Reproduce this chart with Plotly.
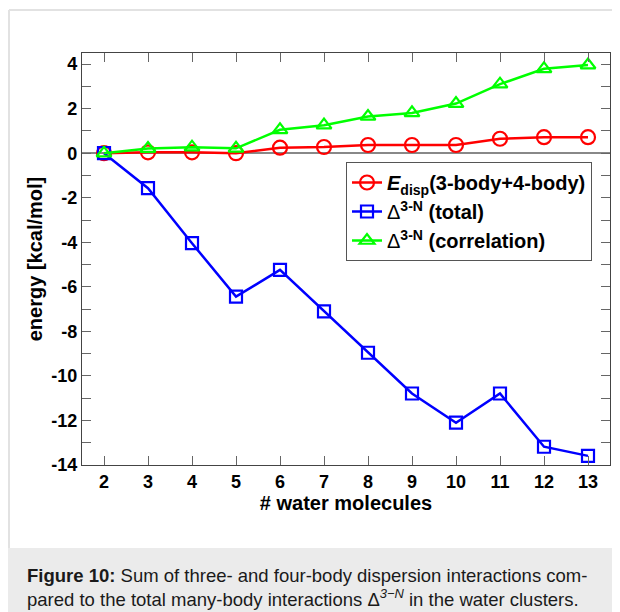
import plotly.graph_objects as go

# ---- data ----
n_water = [2, 3, 4, 5, 6, 7, 8, 9, 10, 11, 12, 13]
e_disp = [0.0, 0.04, 0.04, 0.0, 0.25, 0.28, 0.37, 0.37, 0.37, 0.65, 0.72, 0.72]
delta_total = [0.0, -1.57, -4.04, -6.44, -5.24, -7.1, -8.96, -10.79, -12.1, -10.79, -13.18, -13.59]
delta_corr = [0.0, 0.21, 0.27, 0.22, 1.05, 1.26, 1.65, 1.81, 2.23, 3.1, 3.79, 3.96]

y_tick_vals = list(range(-14, 5, 2))
y_tick_text = [str(v) for v in y_tick_vals]
y_minor_vals = list(range(-13, 5, 2))
x_tick_vals = n_water

# the page body adds an 8px margin, so the figure is 8px smaller and all
# screen positions are shifted by -8
OFF = 8
W, H = 620 - OFF, 612 - OFF
L, R, T, B = 82 - OFF, 610 - OFF, 53 - OFF, 465 - OFF
FONT = "Liberation Sans, Arial, Helvetica, sans-serif"


def px2x(px):
    return (px - OFF - L) / (R - L)


def py2y(py):
    return (B - (py - OFF)) / (B - T)


fig = go.Figure()

fig.add_trace(go.Scatter(
    x=n_water, y=e_disp, mode="lines+markers",
    name="<b><i>E</i><sub>disp</sub>(3-body+4-body)</b>",
    line=dict(color="#ff0000", width=2.5),
    marker=dict(symbol="circle-open", size=14, color="#ff0000", line=dict(width=2.2, color="#ff0000")),
))
fig.add_trace(go.Scatter(
    x=n_water, y=delta_total, mode="lines+markers",
    name="Δ<b><sup>3-N</sup> (total)</b>",
    line=dict(color="#0000ff", width=2.5),
    marker=dict(symbol="square-open", size=12, color="#0000ff", line=dict(width=2.2, color="#0000ff")),
))
fig.add_trace(go.Scatter(
    x=n_water, y=delta_corr, mode="lines+markers",
    name="Δ<b><sup>3-N</sup> (correlation)</b>",
    line=dict(color="#00ff00", width=2.5),
    marker=dict(symbol="triangle-up-open", size=13, color="#00ff00", line=dict(width=2.2, color="#00ff00")),
))

axis_common = dict(
    showline=True, linecolor="#444444", linewidth=1.3, mirror="allticks",
    ticks="inside", ticklen=9, tickwidth=1.3, tickcolor="#666666",
    showgrid=False, automargin=False,
    tickfont=dict(family=FONT, size=18, color="#000000", weight="bold"),
)

fig.update_xaxes(
    range=[1.5, 13.5], tickvals=x_tick_vals, zeroline=False,
    title=dict(text="# water molecules", standoff=1,
               font=dict(family=FONT, size=20, color="#000000", weight="bold")),
    **axis_common,
)
fig.update_yaxes(
    range=[-14, 4.5], tickvals=y_tick_vals, ticktext=y_tick_text,
    minor=dict(tickvals=y_minor_vals, ticks="inside", ticklen=9, tickwidth=1.3,
               tickcolor="#666666", showgrid=False),
    zeroline=True, zerolinecolor="#888888", zerolinewidth=1.5,
    title=dict(text="energy [kcal/mol]", standoff=3,
               font=dict(family=FONT, size=20, color="#000000", weight="bold")),
    **axis_common,
)

shapes = [
    # caption background
    dict(type="rect", xref="paper", yref="paper", x0=px2x(8), x1=px2x(625), y0=py2y(615), y1=py2y(548),
         fillcolor="#ebebeb", line=dict(width=0), layer="below"),
    # figure frame (top & left)
    dict(type="line", xref="paper", yref="paper", x0=px2x(9), x1=px2x(625), y0=py2y(10), y1=py2y(10),
         line=dict(color="#e2e2e2", width=2), layer="below"),
    dict(type="line", xref="paper", yref="paper", x0=px2x(9), x1=px2x(9), y0=py2y(10), y1=py2y(548),
         line=dict(color="#e2e2e2", width=2), layer="below"),
]

annotations = [
    dict(xref="paper", yref="paper", x=px2x(25), y=py2y(575), xanchor="left", yanchor="middle",
         showarrow=False, align="left",
         text="<b>Figure 10:</b> Sum of three- and four-body dispersion interactions com-",
         font=dict(family=FONT, size=18.5, color="#1a1a1a")),
    dict(xref="paper", yref="paper", x=px2x(25), y=py2y(598), xanchor="left", yanchor="middle",
         showarrow=False, align="left",
         text="pared to the total many-body interactions Δ<sup><i>3−N</i></sup> in the water clusters.",
         font=dict(family=FONT, size=18.5, color="#1a1a1a")),
]

fig.update_layout(
    width=W, height=H,
    margin=dict(l=L, r=W - R, t=T, b=H - B, pad=0),
    paper_bgcolor="#ffffff", plot_bgcolor="#ffffff",
    showlegend=True,
    legend=dict(
        x=px2x(346), y=py2y(162), xanchor="left", yanchor="top",
        bgcolor="#ffffff", bordercolor="#555555", borderwidth=1,
        font=dict(family=FONT, size=20, color="#000000"),
        itemwidth=30,
    ),
    shapes=shapes,
    annotations=annotations,
)

fig.write_html("out.html")
